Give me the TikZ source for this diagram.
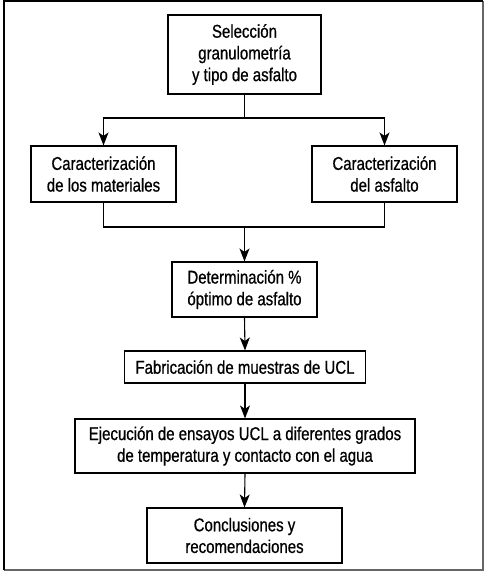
\documentclass[tikz,border=0pt]{standalone}
\usepackage{fontspec}
\setmainfont[FakeStretch=0.81,FakeBold=0.7]{Liberation Sans}
\usetikzlibrary{arrows.meta,positioning}
\tikzset{
	>={Stealth[length=13bp,width=10bp,inset=3.5bp]},
	box/.style={draw, line width=1.1bp, align=center, inner sep=0pt,
		font=\fontsize{18.5bp}{21.7bp}\selectfont},
	flow/.style={line width=1.1bp}
}

\begin{document}
\begin{tikzpicture}[x=1bp,y=-1bp]
	% frame of the figure
	\useasboundingbox (0,0) rectangle (484,572);
	\draw[black!60, line width=1.5bp] (483,1) -- (483,570) -- (4,570);
	\draw[black, line width=2bp] (4,570) -- (4,1) -- (483,1);
	
	% boxes
	\node[box, minimum width=153bp, minimum height=79bp] (sel) at (244.5,54.5)
	{Selección\\granulometría\\y tipo de asfalto};
	\node[box, minimum width=145bp, minimum height=56bp] (mat) at (103.5,174)
	{Caracterización\\de los materiales};
	\node[box, minimum width=145bp, minimum height=56bp] (asf) at (384.5,174)
	{Caracterización\\del asfalto};
	\node[box, minimum width=145bp, minimum height=55bp] (det) at (244.5,289.5)
	{Determinación \%\\óptimo de asfalto};
	\node[box, minimum width=241bp, minimum height=32bp] (fab) at (245,367)
	{Fabricación de muestras de UCL};
	\node[box, minimum width=340bp, minimum height=54bp] (eje) at (245,446)
	{Ejecución de ensayos UCL a diferentes grados\\de temperatura y contacto con el agua};
	\node[box, minimum width=195bp, minimum height=55bp] (con) at (244.5,535.5)
	{Conclusiones y\\recomendaciones};
	
	% branch and join points
	\coordinate (split) at (244.5,118);
	\coordinate (join) at (244.5,227);
	
	% connectors
	\draw[flow] (sel.south) -- (split);
	\draw[flow,->] (split) -| (mat.north);
	\draw[flow,->] (split) -| (asf.north);
	\draw[flow] (mat.south) |- (join);
	\draw[flow] (asf.south) |- (join);
	\draw[flow,->] (join) -- (det.north);
	\draw[flow,->] (det.south) -- (fab.north);
	\draw[flow,->] (fab.south) -- (eje.north);
	\draw[flow,->] (eje.south) -- (con.north);
	
\end{tikzpicture}
\end{document}
